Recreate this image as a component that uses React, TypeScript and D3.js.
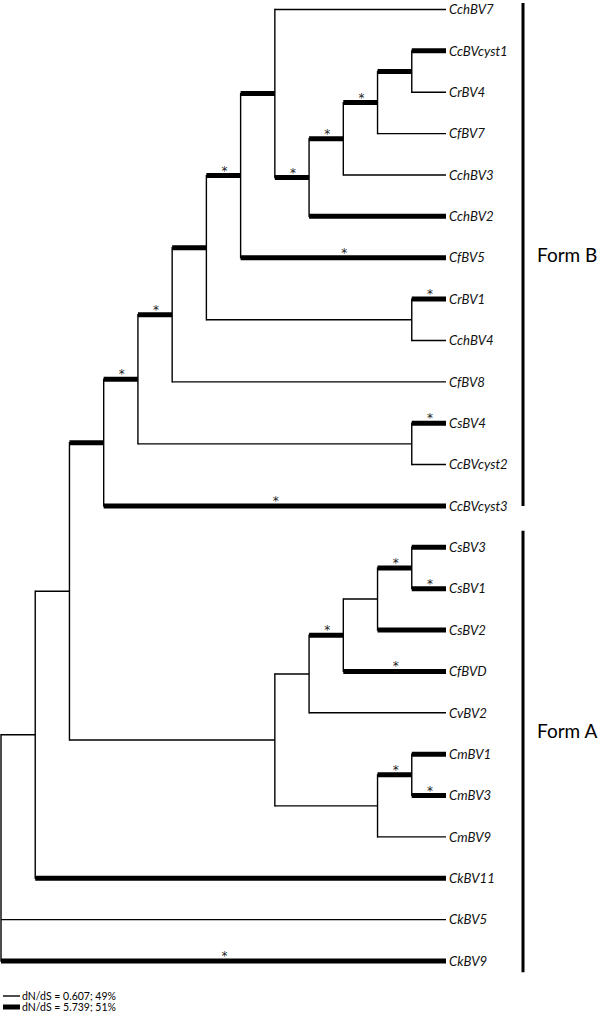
import React from "react";
import * as d3 from "d3";

// Tree topology: [node, parent], children listed top-to-bottom
const branches: [string, string][] = [
  ["root", ""],
  ["nA", "root"],
  ["nB", "nA"],
  ["nFB", "nB"],
  ["nC", "nFB"],
  ["nD", "nC"],
  ["nF", "nD"],
  ["nG", "nF"],
  ["nH", "nG"],
  ["CchBV7", "nH"],
  ["nI", "nH"],
  ["nJ", "nI"],
  ["nK", "nJ"],
  ["nL", "nK"],
  ["CcBVcyst1", "nL"],
  ["CrBV4", "nL"],
  ["CfBV7", "nK"],
  ["CchBV3", "nJ"],
  ["CchBV2", "nI"],
  ["CfBV5", "nG"],
  ["nM", "nF"],
  ["CrBV1", "nM"],
  ["CchBV4", "nM"],
  ["CfBV8", "nD"],
  ["nN", "nC"],
  ["CsBV4", "nN"],
  ["CcBVcyst2", "nN"],
  ["CcBVcyst3", "nFB"],
  ["nFA", "nB"],
  ["nO", "nFA"],
  ["nP", "nO"],
  ["nQ", "nP"],
  ["nR", "nQ"],
  ["CsBV3", "nR"],
  ["CsBV1", "nR"],
  ["CsBV2", "nQ"],
  ["CfBVD", "nP"],
  ["CvBV2", "nO"],
  ["nS", "nFA"],
  ["nT", "nS"],
  ["CmBV1", "nT"],
  ["CmBV3", "nT"],
  ["CmBV9", "nS"],
  ["CkBV11", "nA"],
  ["CkBV5", "root"],
  ["CkBV9", "root"],
];

// Branches in the high dN/dS class (drawn thick)
const highRateBranches = [
  "nFB", "nC", "nD", "nF", "nG", "nH", "nI", "nJ", "nK", "nL",
  "CcBVcyst1", "CchBV2", "CfBV5", "CrBV1", "CsBV4", "CcBVcyst3",
  "nP", "nR", "CsBV3", "CsBV1", "CsBV2", "CfBVD", "nT", "CmBV1", "CmBV3",
  "CkBV11", "CkBV9",
];

// Branches marked with an asterisk
const starredBranches = [
  "nC", "nD", "nG", "nI", "nJ", "nK", "CfBV5", "CrBV1", "CsBV4", "CcBVcyst3",
  "nP", "nR", "CsBV1", "CfBVD", "nT", "CmBV3", "CkBV9",
];

// Form groups: name, span in leaf-index units, label position in leaf-index units
const formNames = ["Form B", "Form A"];
const formSpans: [number, number][] = [[-0.16, 12.0], [12.6, 23.27]];
const formLabelAt = [5.95, 17.45];

const legendLabels = ["dN/dS = 0.607; 49%", "dN/dS = 5.739; 51%"];

export default function App() {
  const W = 600, H = 1012;
  const root = d3
    .stratify<[string, string]>()
    .id((d) => d[0])
    .parentId((d) => (d[1] === "" ? null : d[1]))(branches);

  const layout = d3.cluster<[string, string]>().nodeSize([1, 1]).separation(() => 1);
  layout(root);

  const leafNodes = root.leaves();
  const minLeaf = d3.min(leafNodes, (d) => d.x as number) as number;
  const maxDepth = d3.max(leafNodes, (d) => d.y as number) as number;
  const nLeaves = leafNodes.length;

  const yScale = d3.scaleLinear().domain([0, nLeaves - 1]).range([9.5, 961]);
  const xScale = d3.scaleLinear().domain([0, maxDepth]).range([1, 446]);

  const Y = (n: any) => yScale(n.x - minLeaf);
  const X = (n: any) => xScale(n.y);

  const thick = new Set(highRateBranches);
  const star = new Set(starredBranches);

  const thinW = 1.4, thickW = 5;

  const nodes = root.descendants();
  const elems: React.ReactNode[] = [];

  nodes.forEach((n: any, i: number) => {
    if (n.parent) {
      const isThick = thick.has(n.id);
      elems.push(
        <line
          key={"h" + i}
          x1={X(n.parent)}
          x2={X(n)}
          y1={Y(n)}
          y2={Y(n)}
          stroke="#000"
          strokeWidth={isThick ? thickW : thinW}
        />
      );
      if (star.has(n.id)) {
        elems.push(
          <text
            key={"s" + i}
            x={(X(n.parent) + X(n)) / 2 + 1}
            y={Y(n) - 1}
            textAnchor="middle"
            fontFamily="'DejaVu Sans', sans-serif"
            fontSize={12}
            fill="#222"
          >
            *
          </text>
        );
      }
    }
    if (n.children) {
      const ys = n.children.map((c: any) => Y(c));
      elems.push(
        <line
          key={"v" + i}
          x1={X(n)}
          x2={X(n)}
          y1={d3.min(ys) as number}
          y2={d3.max(ys) as number}
          stroke="#000"
          strokeWidth={thinW}
          strokeLinecap="square"
        />
      );
    } else {
      elems.push(
        <text
          key={"t" + i}
          x={X(n) + 3}
          y={Y(n)}
          dy="0.36em"
          fontFamily="Lato, 'Open Sans', sans-serif"
          fontStyle="italic"
          fontSize={13.2}
          fill="#111"
        >
          {n.id}
        </text>
      );
    }
  });

  const barX = 523;
  const formElems = formNames.map((name, i) => (
    <g key={"f" + i}>
      <line
        x1={barX}
        x2={barX}
        y1={yScale(formSpans[i][0])}
        y2={yScale(formSpans[i][1])}
        stroke="#000"
        strokeWidth={3}
      />
      <text
        x={537}
        y={yScale(formLabelAt[i])}
        dy="0.36em"
        fontFamily="Lato, 'Open Sans', sans-serif"
        fontSize={19}
        fill="#000"
      >
        {name}
      </text>
    </g>
  ));

  const legendY = [996, 1007];
  const legend = legendLabels.map((lab, i) => (
    <g key={"l" + i}>
      <line x1={3} x2={20} y1={legendY[i]} y2={legendY[i]} stroke="#000" strokeWidth={i === 0 ? thinW : thickW} />
      <text
        x={22}
        y={legendY[i]}
        dy="0.36em"
        fontFamily="Lato, 'Open Sans', sans-serif"
        fontSize={10.5}
        fill="#000"
      >
        {lab}
      </text>
    </g>
  ));

  return (
    <svg
      width={W}
      height={H}
      style={{ position: "absolute", left: 0, top: 0, background: "#fff" }}
    >
      {elems}
      {formElems}
      {legend}
    </svg>
  );
}
